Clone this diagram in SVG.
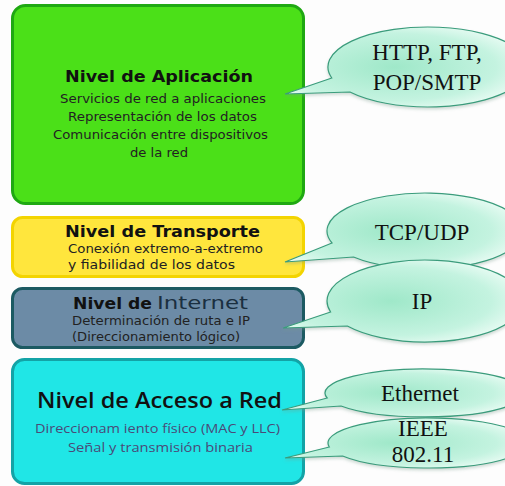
<svg xmlns="http://www.w3.org/2000/svg" width="505" height="486" viewBox="0 0 505 486">
<defs>
<radialGradient id="bg" cx="0.45" cy="0.5" r="0.6">
<stop offset="0" stop-color="#9fe8c9"/>
<stop offset="0.7" stop-color="#c4f3e0"/>
<stop offset="1" stop-color="#effdf7"/>
</radialGradient>
<filter id="sh" x="-10%" y="-10%" width="120%" height="140%">
<feDropShadow dx="0" dy="2" stdDeviation="1.5" flood-color="#7a9a8a" flood-opacity="0.35"/>
</filter>
<style>
.t{font-family:"DejaVu Sans",Verdana,sans-serif;font-weight:bold;font-size:16px;fill:#111}
.s{font-family:"DejaVu Sans",Verdana,sans-serif;font-size:12px;fill:#222}
.b{fill:url(#bg);stroke:#3a9c7c;stroke-width:1.2;filter:url(#sh)}
.c{font-family:"Liberation Serif",serif;font-size:23px;fill:#111;text-anchor:middle}
</style>
</defs>
<rect width="505" height="486" fill="#fdfdfd"/>
<g id="aplicacion">
<rect x="12.5" y="5.5" width="291" height="198" rx="13" fill="#4be018" stroke="#1fa812" stroke-width="3"/>
<text class="t" x="65" y="82" textLength="188" lengthAdjust="spacingAndGlyphs">Nivel de Aplicación</text>
<text class="s" x="60" y="103" textLength="206" lengthAdjust="spacingAndGlyphs">Servicios de red a aplicaciones</text>
<text class="s" x="68" y="121" textLength="189" lengthAdjust="spacingAndGlyphs">Representación de los datos</text>
<text class="s" x="53" y="139" textLength="215" lengthAdjust="spacingAndGlyphs">Comunicación entre dispositivos</text>
<text class="s" x="130" y="157" textLength="58" lengthAdjust="spacingAndGlyphs">de la red</text>
</g>
<g id="transporte">
<rect x="12.5" y="217.5" width="291" height="59" rx="10" fill="#ffe63d" stroke="#f3d400" stroke-width="3"/>
<text class="t" x="65" y="237" textLength="195" lengthAdjust="spacingAndGlyphs">Nivel de Transporte</text>
<text class="s" x="68" y="253" textLength="195" lengthAdjust="spacingAndGlyphs">Conexión extremo-a-extremo</text>
<text class="s" x="68" y="269" textLength="167" lengthAdjust="spacingAndGlyphs">y fiabilidad de los datos</text>
</g>
<g id="internet">
<rect x="12.5" y="288.5" width="291" height="59" rx="10" fill="#6c8ba6" stroke="#1c5a62" stroke-width="3"/>
<text class="t" x="73" y="309" textLength="79" lengthAdjust="spacingAndGlyphs">Nivel de</text>
<text x="157" y="309" font-family="DejaVu Sans,sans-serif" font-size="17.5" fill="#1a2f40" textLength="91" lengthAdjust="spacingAndGlyphs">Internet</text>
<text class="s" x="72" y="325" fill="#1a2330" textLength="178" lengthAdjust="spacingAndGlyphs">Determinación de ruta e IP</text>
<text class="s" x="72" y="341" fill="#1a2330" textLength="168" lengthAdjust="spacingAndGlyphs">(Direccionamiento lógico)</text>
</g>
<g id="acceso">
<rect x="12.5" y="359.5" width="291" height="124" rx="12" fill="#20e6e6" stroke="#13a3a6" stroke-width="3"/>
<text x="37" y="408" font-family="Open Sans,sans-serif" font-weight="600" font-size="21" fill="#111" textLength="245" lengthAdjust="spacingAndGlyphs">Nivel de Acceso a Red</text>
<text x="35" y="433" font-family="Open Sans,sans-serif" font-size="13" fill="#4a4a78" textLength="245" lengthAdjust="spacingAndGlyphs">Direccionam iento físico (MAC y LLC)</text>
<text x="68" y="452" font-family="Open Sans,sans-serif" font-size="13" fill="#4a4a78" textLength="185" lengthAdjust="spacingAndGlyphs">Señal y transmisión binaria</text>
</g>
<g id="connectors">
<g id="callout-http">
<path class="b" d="M331.8,78 L285,94 L349.9,92 A100,40 0 1 0 331.8,78 Z"/>
<text class="c" x="427" y="60">HTTP, FTP,</text>
<text class="c" x="427" y="90">POP/SMTP</text>
</g>
<g id="callout-tcp">
<path class="b" d="M332,243 L285,262 L353.5,257 A98,38 0 1 0 332,243 Z"/>
<text class="c" x="422" y="240">TCP/UDP</text>
</g>
<g id="callout-ip">
<path class="b" d="M330.6,312 L283,328 L347.3,326 A98,41 0 1 0 330.6,312 Z"/>
<text class="c" x="422" y="309">IP</text>
</g>
<g id="callout-ethernet">
<path class="b" d="M327.2,398 L282,410 L341,406 A100,24 0 1 0 327.2,398 Z"/>
<text class="c" x="420" y="401" font-size="21">Ethernet</text>
</g>
<g id="callout-ieee">
<path class="b" d="M329.3,447 L285,458 L342.6,456 A100,25 0 1 0 329.3,447 Z"/>
<text class="c" x="423" y="436" font-size="21">IEEE</text>
<text class="c" x="423" y="462" font-size="21">802.11</text>
</g>
</g>
</svg>
